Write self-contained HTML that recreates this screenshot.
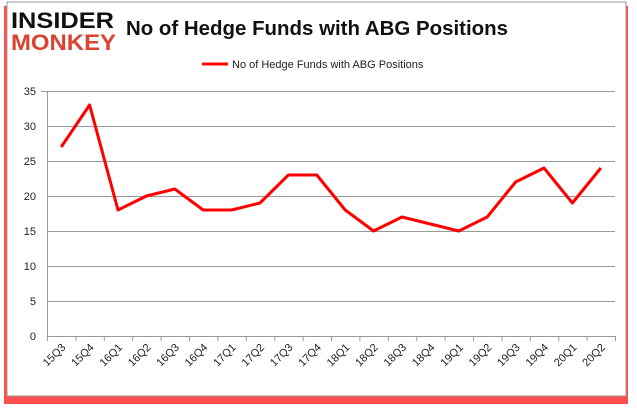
<!DOCTYPE html>
<html><head><style>
body{margin:0;width:637px;height:408px;background:#fff;overflow:hidden;font-family:"Liberation Sans",sans-serif}
</style></head><body>
<svg width="637" height="408" xmlns="http://www.w3.org/2000/svg" font-family="Liberation Sans, sans-serif">
<rect x="4" y="6" width="624" height="398" fill="#f22" opacity="0.8"/>
<rect x="7" y="2" width="619" height="394" fill="#fff" stroke="#999" stroke-width="1"/>
<text x="11" y="28" font-size="22" font-weight="bold" fill="#111" textLength="103" lengthAdjust="spacingAndGlyphs">INSIDER</text>
<text x="11" y="50" font-size="22" font-weight="bold" fill="#d9432f" textLength="105" lengthAdjust="spacingAndGlyphs">MONKEY</text>
<text x="126" y="35" font-size="20" font-weight="bold" fill="#111" textLength="382" lengthAdjust="spacingAndGlyphs">No of Hedge Funds with ABG Positions</text>
<line x1="202" y1="64" x2="228" y2="64" stroke="#f00" stroke-width="3"/>
<text x="232" y="68" font-size="11" fill="#222">No of Hedge Funds with ABG Positions</text>
<g stroke="#999" stroke-width="1">
<line x1="47" y1="91.5" x2="615" y2="91.5"/>
<line x1="47" y1="126.5" x2="615" y2="126.5"/>
<line x1="47" y1="161.5" x2="615" y2="161.5"/>
<line x1="47" y1="196.5" x2="615" y2="196.5"/>
<line x1="47" y1="231.5" x2="615" y2="231.5"/>
<line x1="47" y1="266.5" x2="615" y2="266.5"/>
<line x1="47" y1="301.5" x2="615" y2="301.5"/>
<line x1="47" y1="336.5" x2="615" y2="336.5"/>
<line x1="47.5" y1="91" x2="47.5" y2="336"/>
<line x1="41" y1="91.5" x2="47" y2="91.5"/>
<path d="M47.5 336v5M75.9 336v5M104.3 336v5M132.7 336v5M161.1 336v5M189.5 336v5M217.9 336v5M246.3 336v5M274.7 336v5M303.1 336v5M331.5 336v5M359.9 336v5M388.3 336v5M416.7 336v5M445.1 336v5M473.5 336v5M501.9 336v5M530.3 336v5M558.7 336v5M587.1 336v5M615.5 336v5"/>
</g>
<g font-size="11" fill="#222" text-anchor="end">
<text x="36" y="95">35</text><text x="36" y="130">30</text><text x="36" y="165">25</text><text x="36" y="200">20</text><text x="36" y="235">15</text><text x="36" y="270">10</text><text x="36" y="305">5</text><text x="36" y="340">0</text>
</g>
<polyline fill="none" stroke="#f00" stroke-width="3" stroke-linejoin="round" points="61.2,147 89.6,105 118,210 146.4,196 174.8,189 203.2,210 231.6,210 260,203 288.4,175 316.8,175 345.2,210 373.6,231 402,217 430.4,224 458.8,231 487.2,217 515.6,182 544,168 572.4,203 600.8,168"/>
<g font-size="11" fill="#222" text-anchor="end">
<text transform="translate(66.2,348) rotate(-45)">15Q3</text>
<text transform="translate(94.6,348) rotate(-45)">15Q4</text>
<text transform="translate(123,348) rotate(-45)">16Q1</text>
<text transform="translate(151.4,348) rotate(-45)">16Q2</text>
<text transform="translate(179.8,348) rotate(-45)">16Q3</text>
<text transform="translate(208.2,348) rotate(-45)">16Q4</text>
<text transform="translate(236.6,348) rotate(-45)">17Q1</text>
<text transform="translate(265,348) rotate(-45)">17Q2</text>
<text transform="translate(293.4,348) rotate(-45)">17Q3</text>
<text transform="translate(321.8,348) rotate(-45)">17Q4</text>
<text transform="translate(350.2,348) rotate(-45)">18Q1</text>
<text transform="translate(378.6,348) rotate(-45)">18Q2</text>
<text transform="translate(407,348) rotate(-45)">18Q3</text>
<text transform="translate(435.4,348) rotate(-45)">18Q4</text>
<text transform="translate(463.8,348) rotate(-45)">19Q1</text>
<text transform="translate(492.2,348) rotate(-45)">19Q2</text>
<text transform="translate(520.6,348) rotate(-45)">19Q3</text>
<text transform="translate(549,348) rotate(-45)">19Q4</text>
<text transform="translate(577.4,348) rotate(-45)">20Q1</text>
<text transform="translate(605.8,348) rotate(-45)">20Q2</text>
</g>
</svg>
</body></html>
